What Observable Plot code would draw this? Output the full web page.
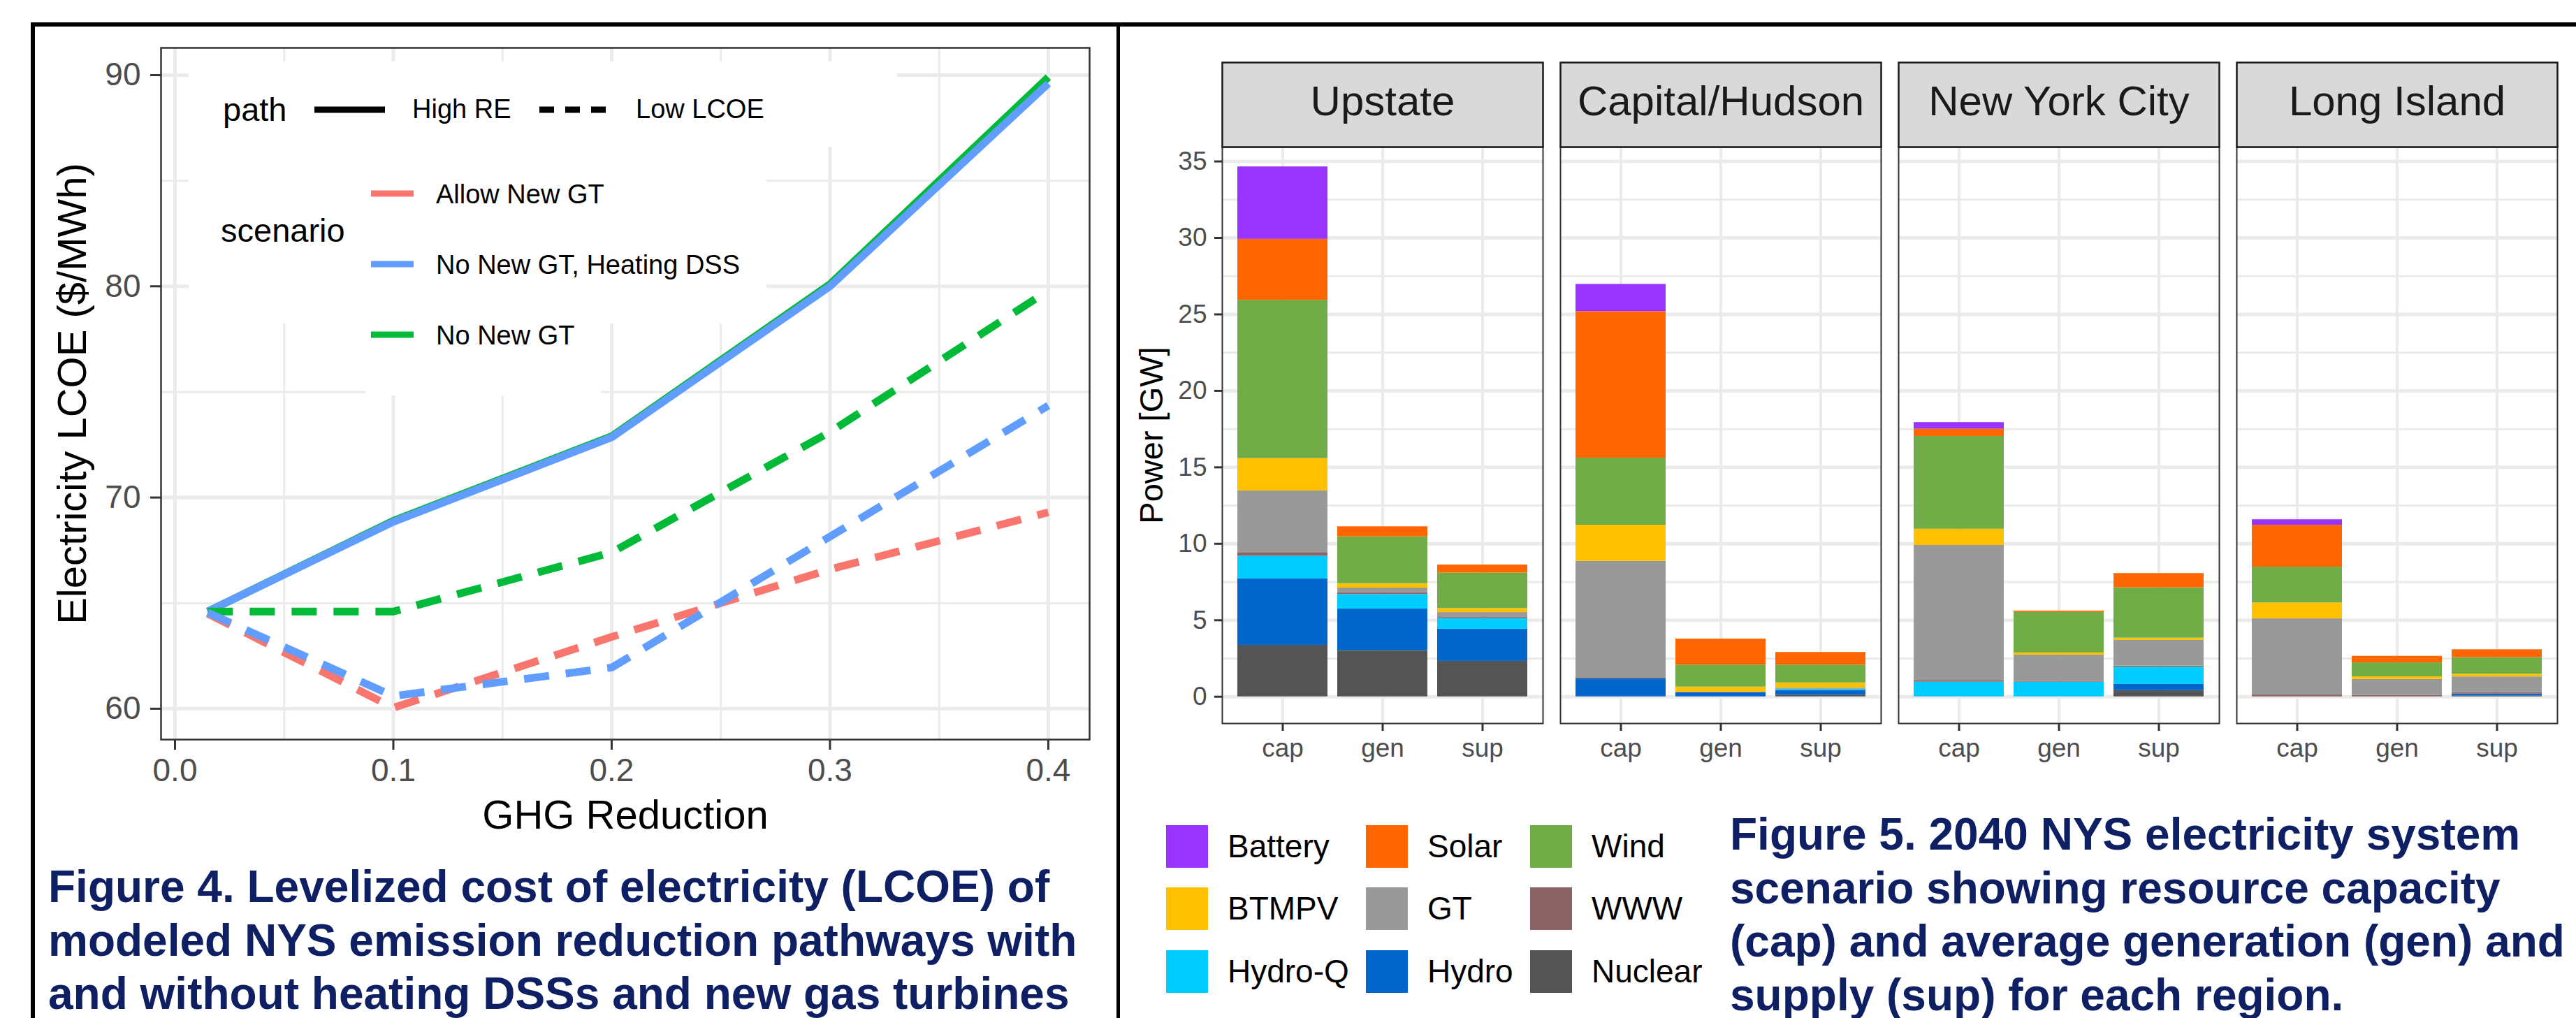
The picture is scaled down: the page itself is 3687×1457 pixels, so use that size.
<!DOCTYPE html>
<html>
<head>
<meta charset="utf-8">
<script src="https://cdn.jsdelivr.net/npm/d3@7"></script>
<script src="https://cdn.jsdelivr.net/npm/@observablehq/plot@0.6"></script>
<style>
  html, body { margin: 0; padding: 0; background: #ffffff; }
  body { width: 3687px; height: 1457px; position: relative; overflow: hidden;
         font-family: "Liberation Sans", Arial, Helvetica, sans-serif; }
  .abs { position: absolute; }
  svg { max-width: none !important; }
  .caption { position: absolute; font-weight: bold; font-size: 64px; line-height: 76.6px;
             color: #0E1F63; white-space: nowrap; }
  .lg { position: absolute; white-space: nowrap; color: #000; }
  .wbox { position: absolute; background: #ffffff; }
</style>
</head>
<body>
<div id="leftChart" class="abs" style="left:0;top:0;"></div>
<div id="rightChart" class="abs" style="left:1600px;top:0;"></div>
<div id="leftLegend"></div>
<div id="rightLegend"></div>
<div id="cap4" class="caption" style="left:69px;top:1231px;"></div>
<div id="cap5" class="caption" style="left:2476px;top:1156px;"></div>
<div class="abs" style="left:44px;top:32px;width:3700px;height:1500px;border-top:6px solid #000;border-left:6px solid #000;"></div>
<div class="abs" style="left:1598px;top:32px;width:5px;height:1430px;background:#000;"></div>
<script>
// ---------------- DATA: Figure 4 (LCOE) ----------------
const ghg = [0.015, 0.1, 0.2, 0.3, 0.4];
const scenarios = ["Allow New GT", "No New GT, Heating DSS", "No New GT"];
const scenarioColors = ["#F8766D", "#619CFF", "#00BA38"];
const paths = ["High RE", "Low LCOE"];
const highRE_NoNewGT      = [64.6, 68.9, 72.9, 80.1, 89.9];
const highRE_NoNewGT_DSS  = [64.6, 68.85, 72.85, 80.0, 89.6];
const lowLCOE_AllowNewGT  = [64.5, 60.05, 63.4, 66.6, 69.3];
const lowLCOE_NoNewGT     = [64.6, 64.6, 67.4, 73.1, 79.8];
const lowLCOE_NoNewGT_DSS = [64.55, 60.6, 61.95, 68.15, 74.35];
const xTicksLeft = [0, 0.1, 0.2, 0.3, 0.4];
const xMinorLeft = [0.05, 0.15, 0.25, 0.35];
const yTicksLeft = [60, 70, 80, 90];
const yMinorLeft = [65, 75, 85];

// ---------------- DATA: Figure 5 (capacity / generation / supply) ----------------
const regions = ["Upstate", "Capital/Hudson", "New York City", "Long Island"];
const measures = ["cap", "gen", "sup"];
// stacking order, bottom to top
const sources = ["Nuclear", "Hydro", "Hydro-Q", "WWW", "GT", "BTMPV", "Wind", "Solar", "Battery"];
const sourceColors = ["#545454", "#0066CC", "#00CCFF", "#8A6464", "#999999", "#FFC000", "#70AD47", "#FF6600", "#9933FF"];
const upstateCap  = [3.37, 4.34, 1.49, 0.23, 4.03, 2.12, 10.35, 3.99, 4.73];
const upstateGen  = [3.02, 2.72, 0.95, 0.12, 0.30, 0.29, 3.06, 0.66, 0];
const upstateSup  = [2.32, 2.10, 0.70, 0.07, 0.32, 0.26, 2.32, 0.53, 0];
const capitalCap  = [0, 1.17, 0, 0.05, 7.64, 2.36, 4.39, 9.58, 1.78];
const capitalGen  = [0, 0.26, 0, 0.03, 0.02, 0.33, 1.43, 1.71, 0];
const capitalSup  = [0.11, 0.30, 0.08, 0.02, 0.06, 0.34, 1.16, 0.83, 0];
const nycCap      = [0, 0, 0.96, 0.08, 8.86, 1.06, 6.07, 0.48, 0.42];
const nycGen      = [0, 0, 0.96, 0.06, 1.71, 0.14, 2.65, 0.09, 0];
const nycSup      = [0.41, 0.40, 1.13, 0.07, 1.68, 0.15, 3.29, 0.93, 0];
const liCap       = [0, 0, 0, 0.12, 4.98, 1.04, 2.34, 2.74, 0.36];
const liGen       = [0, 0, 0, 0.09, 1.05, 0.17, 0.91, 0.43, 0];
const liSup       = [0.06, 0.12, 0, 0.09, 1.03, 0.18, 1.08, 0.52, 0];
const yTicksRight = [0, 5, 10, 15, 20, 25, 30, 35];
const yMinorRight = [2.5, 7.5, 12.5, 17.5, 22.5, 27.5, 32.5];
const legendColumns = [["Battery", "BTMPV", "Hydro-Q"], ["Solar", "GT", "Hydro"], ["Wind", "WWW", "Nuclear"]];

// ---------------- CAPTIONS ----------------
const caption4 = ["Figure 4. Levelized cost of electricity (LCOE) of",
                  "modeled NYS emission reduction pathways with",
                  "and without heating DSSs and new gas turbines"];
const caption5 = ["Figure 5. 2040 NYS electricity system",
                  "scenario showing resource capacity",
                  "(cap) and average generation (gen) and",
                  "supply (sup) for each region."];

const FONT = '"Liberation Sans", Arial, Helvetica, sans-serif';
const GRID = "#EBEBEB";

// ---------------- LEFT CHART ----------------
const lcoeRows = [];
function addSeries(scenario, path, values) {
  values.forEach((v, i) => lcoeRows.push({ghg: ghg[i], lcoe: v, scenario, path}));
}
addSeries(scenarios[0], paths[1], lowLCOE_AllowNewGT);
addSeries(scenarios[2], paths[0], highRE_NoNewGT);
addSeries(scenarios[2], paths[1], lowLCOE_NoNewGT);
addSeries(scenarios[1], paths[0], highRE_NoNewGT_DSS);
addSeries(scenarios[1], paths[1], lowLCOE_NoNewGT_DSS);

const leftPlot = Plot.plot({
  width: 1600, height: 1200,
  marginLeft: 230, marginRight: 41, marginTop: 68, marginBottom: 142,
  style: {fontFamily: FONT, background: "transparent", overflow: "visible"},
  x: {domain: [-0.0064, 0.4189]},
  y: {domain: [58.54, 91.29]},
  color: {domain: scenarios, range: scenarioColors},
  marks: [
    Plot.gridX(xMinorLeft, {stroke: GRID, strokeOpacity: 1, strokeWidth: 3}),
    Plot.gridY(yMinorLeft, {stroke: GRID, strokeOpacity: 1, strokeWidth: 3}),
    Plot.gridX(xTicksLeft, {stroke: GRID, strokeOpacity: 1, strokeWidth: 5}),
    Plot.gridY(yTicksLeft, {stroke: GRID, strokeOpacity: 1, strokeWidth: 5}),
    Plot.line(lcoeRows.filter(d => d.path === "High RE"),
      {x: "ghg", y: "lcoe", z: "scenario", stroke: "scenario", strokeWidth: 11, strokeLinecap: "butt", strokeLinejoin: "round"}),
    Plot.line(lcoeRows.filter(d => d.path === "Low LCOE"),
      {x: "ghg", y: "lcoe", z: "scenario", stroke: "scenario", strokeWidth: 11, strokeLinecap: "butt", strokeLinejoin: "round", strokeDasharray: "36,24"}),
    Plot.frame({stroke: "#333333", strokeWidth: 2.5}),
    Plot.axisX(xTicksLeft, {tickFormat: d3.format(".1f"), tickSize: 15, tickPadding: 12, fontSize: 46,
      color: "#4D4D4D", stroke: "#333333", strokeWidth: 3, label: null}),
    Plot.axisY(yTicksLeft, {tickSize: 15, tickPadding: 14, fontSize: 46,
      color: "#4D4D4D", stroke: "#333333", strokeWidth: 3, label: null}),
    Plot.text(["GHG Reduction"], {text: d => d, frameAnchor: "bottom", dy: 109, lineAnchor: "middle", textAnchor: "middle", fontSize: 58, fill: "#000"}),
    Plot.text(["Electricity LCOE ($/MWh)"], {text: d => d, frameAnchor: "left", dx: -126, rotate: -90,
      textAnchor: "middle", lineAnchor: "middle", fontSize: 58, fill: "#000"})
  ]
});
document.getElementById("leftChart").appendChild(leftPlot);

// ---------------- LEFT LEGEND (inside panel) ----------------
const ll = document.getElementById("leftLegend");
function addBox(l, t, w, h) {
  const d = document.createElement("div");
  d.className = "wbox";
  Object.assign(d.style, {left: l + "px", top: t + "px", width: w + "px", height: h + "px"});
  ll.appendChild(d);
}
addBox(270, 88, 1014, 122);
addBox(270, 210, 827, 253);
addBox(523, 463, 337, 103);
function addText(txt, l, cy, size) {
  const d = document.createElement("div");
  d.className = "lg";
  d.textContent = txt;
  Object.assign(d.style, {left: l + "px", top: (cy - 30) + "px", lineHeight: "60px", fontSize: size + "px"});
  ll.appendChild(d);
}
function addKey(x1, x2, cy, color, dash) {
  const ns = "http://www.w3.org/2000/svg";
  const s = document.createElementNS(ns, "svg");
  s.setAttribute("width", x2 - x1); s.setAttribute("height", 20);
  s.style.position = "absolute"; s.style.left = x1 + "px"; s.style.top = (cy - 10) + "px";
  const ln = document.createElementNS(ns, "line");
  ln.setAttribute("x1", 0); ln.setAttribute("x2", x2 - x1); ln.setAttribute("y1", 10); ln.setAttribute("y2", 10);
  ln.setAttribute("stroke", color); ln.setAttribute("stroke-width", 9);
  if (dash) ln.setAttribute("stroke-dasharray", dash);
  s.appendChild(ln);
  ll.appendChild(s);
}
addText("path", 319, 157, 47);
addKey(450, 551, 157, "#000", null);
addText(paths[0], 590, 156, 38);
addKey(772, 867, 157, "#000", "21,16");
addText(paths[1], 910, 156, 38);
addText("scenario", 316, 330, 47);
const scenarioKeyY = [277, 378, 479];
scenarios.forEach((s, i) => {
  addKey(531, 592, scenarioKeyY[i], scenarioColors[i], null);
  addText(s, 624, scenarioKeyY[i] + 1, 38);
});

// ---------------- RIGHT CHART ----------------
const barArrays = [[upstateCap, upstateGen, upstateSup], [capitalCap, capitalGen, capitalSup],
                   [nycCap, nycGen, nycSup], [liCap, liGen, liSup]];
const barRows = [];
regions.forEach((r, ri) => measures.forEach((m, mi) => sources.forEach((s, si) => {
  const v = barArrays[ri][mi][si];
  if (v > 0) barRows.push({region: r, measure: m, source: s, value: v});
})));

const rightPlot = Plot.plot({
  width: 2087, height: 1130,
  marginLeft: 149, marginRight: 27, marginTop: 210, marginBottom: 95,
  style: {fontFamily: FONT, background: "transparent", overflow: "visible"},
  fx: {domain: regions, paddingInner: 0.052, paddingOuter: 0, axis: null, label: null},
  x: {domain: measures, paddingInner: 0.1, paddingOuter: 0.15, label: null},
  y: {domain: [-1.75, 35.94], label: null},
  color: {domain: sources, range: sourceColors},
  marks: [
    Plot.gridY(yMinorRight, {stroke: GRID, strokeOpacity: 1, strokeWidth: 3}),
    Plot.gridY(yTicksRight, {stroke: GRID, strokeOpacity: 1, strokeWidth: 5}),
    Plot.gridX(measures, {stroke: GRID, strokeOpacity: 1, strokeWidth: 4}),
    Plot.barY(barRows, {fx: "region", x: "measure", y: "value", fill: "source", order: sources}),
    Plot.frame({stroke: "#333333", strokeWidth: 2}),
    Plot.frame({fill: "#D9D9D9", stroke: "#1A1A1A", strokeWidth: 2.5, insetTop: -121, insetBottom: 825}),
    Plot.text(regions, {fx: d => d, text: d => d, frameAnchor: "top", dy: -65, lineAnchor: "middle", textAnchor: "middle", fontSize: 60, fill: "#1A1A1A"}),
    Plot.axisY(yTicksRight, {tickSize: 11, tickPadding: 11, fontSize: 37,
      color: "#4D4D4D", stroke: "#333333", strokeWidth: 3, label: null}),
    Plot.axisX(measures, {tickSize: 11, tickPadding: 10, fontSize: 37,
      color: "#4D4D4D", stroke: "#333333", strokeWidth: 3, label: null}),
    Plot.text(["Power [GW]"], {fx: () => regions[0], text: d => d, frameAnchor: "left", dx: -101, rotate: -90,
      textAnchor: "middle", lineAnchor: "middle", fontSize: 47, fill: "#000"})
  ]
});
document.getElementById("rightChart").appendChild(rightPlot);

// ---------------- RIGHT LEGEND ----------------
const rl = document.getElementById("rightLegend");
const legendColX = [1669, 1955, 2190];
const legendRowY = [1181, 1270, 1360];
legendColumns.forEach((col, ci) => col.forEach((name, ri) => {
  const sw = document.createElement("div");
  Object.assign(sw.style, {position: "absolute", left: legendColX[ci] + "px", top: legendRowY[ri] + "px",
    width: "60px", height: "61px", background: sourceColors[sources.indexOf(name)]});
  rl.appendChild(sw);
  const tx = document.createElement("div");
  tx.className = "lg";
  tx.textContent = name;
  Object.assign(tx.style, {left: (legendColX[ci] + 88) + "px", top: legendRowY[ri] + "px",
    lineHeight: "61px", fontSize: "46px"});
  rl.appendChild(tx);
}));

// ---------------- CAPTIONS ----------------
function fillCaption(id, lines) {
  const el = document.getElementById(id);
  lines.forEach((t, i) => {
    if (i) el.appendChild(document.createElement("br"));
    el.appendChild(document.createTextNode(t));
  });
}
fillCaption("cap4", caption4);
fillCaption("cap5", caption5);
</script>
</body>
</html>
